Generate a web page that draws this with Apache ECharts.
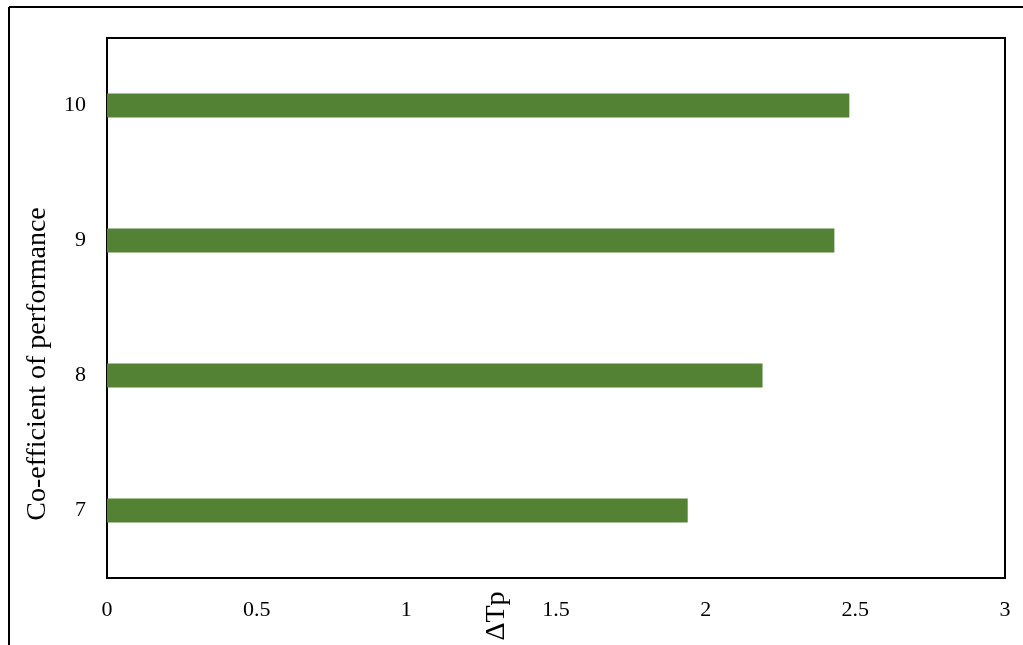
<!DOCTYPE html>
<html>
<head>
<meta charset="utf-8">
<script src="https://cdn.jsdelivr.net/npm/echarts@6/dist/echarts.min.js"></script>
<style>
  html, body { margin: 0; padding: 0; background: #fff; }
  #chart { width: 1023px; height: 645px; }
</style>
</head>
<body>
<div id="chart"></div>
<script>
// Coefficient of performance levels and their ΔTp values
const categories = ['7', '8', '9', '10'];
const deltaTp = [1.94, 2.19, 2.43, 2.48];
const xTicks = [0, 0.5, 1, 1.5, 2, 2.5, 3];

const yTitle = 'Co-efficient of performance';
const xTitle = 'ΔTp';

const serif = '"Liberation Serif", "Times New Roman", serif';
const chart = echarts.init(document.getElementById('chart'));

chart.setOption({
  animation: false,
  backgroundColor: '#ffffff',
  grid: { left: 107, right: 18, top: 38, bottom: 67, show: true, borderColor: '#000', borderWidth: 2, backgroundColor: 'transparent' },
  xAxis: {
    type: 'value',
    min: xTicks[0],
    max: xTicks[xTicks.length - 1],
    interval: 0.5,
    axisLine: { show: false },
    axisTick: { show: false },
    splitLine: { show: false },
    axisLabel: {
      color: '#000', fontFamily: serif, fontSize: 22, margin: 21,
      formatter: v => String(v)
    }
  },
  yAxis: {
    type: 'category',
    data: categories,
    axisLine: { show: false },
    axisTick: { show: false },
    axisLabel: { color: '#000', fontFamily: serif, fontSize: 22, margin: 21 }
  },
  series: [{
    type: 'bar',
    data: deltaTp,
    barWidth: 24,
    itemStyle: { color: '#548235' }
  }],
  graphic: [
    // outer frame edges
    { type: 'line', shape: { x1: 9, y1: 7, x2: 1023, y2: 7 }, style: { stroke: '#000', lineWidth: 2 } },
    { type: 'line', shape: { x1: 9, y1: 7, x2: 9, y2: 645 }, style: { stroke: '#000', lineWidth: 2 } },
    // vertical-axis title, rotated
    {
      type: 'text',
      x: 38, y: 364,
      rotation: Math.PI / 2,
      style: { text: yTitle, fill: '#000', font: '28px ' + serif, align: 'center', verticalAlign: 'middle' }
    },
    // horizontal-axis title, rotated
    {
      type: 'text',
      x: 497, y: 616,
      rotation: Math.PI / 2,
      style: { text: xTitle, fill: '#000', font: '28px ' + serif, align: 'center', verticalAlign: 'middle' }
    }
  ]
});
</script>
</body>
</html>
